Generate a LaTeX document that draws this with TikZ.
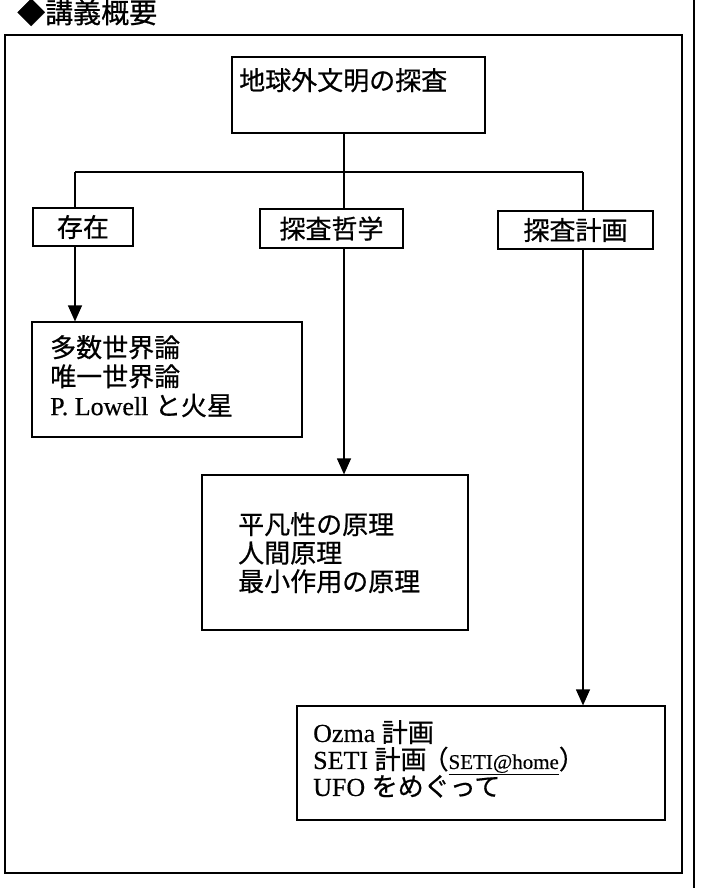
\documentclass[tikz,border=0pt]{standalone}
\usepackage{fontspec}
\setmainfont[FakeBold=0.4]{Liberation Serif}
\newfontfamily\jp[FakeBold=0.6]{Noto Sans CJK JP}
\usetikzlibrary{arrows.meta}
\begin{document}
\begin{tikzpicture}[x=1pt,y=-1pt,
  box/.style={draw, line width=1.2pt, inner sep=0pt},
  lbl/.style={inner sep=0pt, font=\jp\fontsize{26}{28}\selectfont},
  txt/.style={inner sep=0pt, anchor=north west, align=left},
  conn/.style={line width=1.2pt},
  arr/.style={conn, -{Triangle[length=16pt,width=14pt]}}]
\useasboundingbox (0,0) rectangle (701,888);
% heading and page frame
\node[inner sep=0pt, anchor=base west, font=\jp\fontsize{28}{28}\selectfont] (heading) at (17,23) {◆講義概要};
\node[box, line width=1.2pt, minimum width=677pt, minimum height=838pt] (frame) at (343.5,454) {};
\draw[line width=1.4pt] (694,0) -- (694,888);
% top box
\node[box, minimum width=253pt, minimum height=76pt] (top) at (358.5,95) {};
\node[lbl, anchor=base west] (toptxt) at (239,90) {地球外文明の探査};
% second row
\node[box, lbl, minimum width=100pt, minimum height=38pt] (sonzai) at (83,227) {存在};
\node[box, lbl, minimum width=143pt, minimum height=39pt] (tetsu) at (331.5,228.5) {探査哲学};
\node[box, lbl, minimum width=155pt, minimum height=38pt] (keikaku) at (575.5,230) {探査計画};
% third row boxes
\node[box, minimum width=270pt, minimum height=115pt] (exist) at (167,379.5) {};
\node[txt, font=\fontsize{26}{29}\selectfont] (existtxt) at (50,335)
  {{\jp 多数世界論}\\{\jp 唯一世界論}\\P. Lowell {\jp と火星}};
\node[box, minimum width=266pt, minimum height=155pt] (phil) at (335,552.5) {};
\node[txt, font=\jp\fontsize{26}{28.5}\selectfont] (philtxt) at (238,512)
  {平凡性の原理\\人間原理\\最小作用の原理};
\node[box, minimum width=368pt, minimum height=114pt] (plan) at (481,763) {};
\node[txt, font=\fontsize{26}{27}\selectfont] (plantxt) at (313,720)
  {Ozma {\jp 計画}\\SETI {\jp 計画}\hspace{-4pt}{\jp （}{\fontsize{21}{27}\selectfont\underline{SETI@home}}{\jp ）}\\UFO {\jp をめぐって}};
% connectors
\coordinate (bl) at (75,172);
\coordinate (jm) at (344,172);
\coordinate (br) at (583,172);
\draw[conn] (bl) -- (br);
\draw[conn] (top.south -| jm) -- (tetsu.north -| jm);
\draw[conn] (bl) -- (sonzai.north -| bl);
\draw[conn] (br) -- (keikaku.north -| br);
\draw[arr] (sonzai.south -| bl) -- (exist.north -| bl);
\draw[arr] (tetsu.south -| jm) -- (phil.north -| jm);
\draw[arr] (keikaku.south -| br) -- (plan.north -| br);
\end{tikzpicture}
\end{document}
